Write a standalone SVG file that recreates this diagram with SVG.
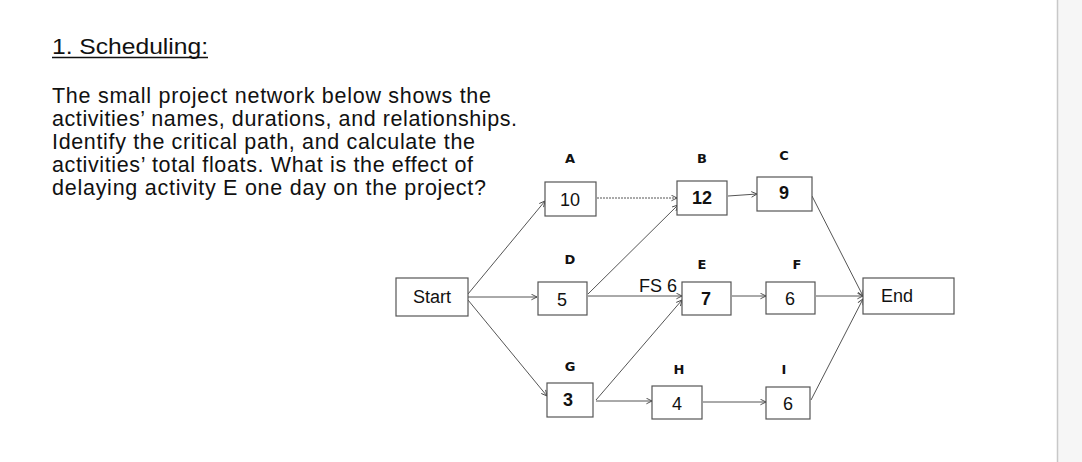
<svg xmlns="http://www.w3.org/2000/svg" width="1082" height="462" viewBox="0 0 1082 462">
<defs>
<marker id="ar" viewBox="0 0 10 10" refX="9" refY="5" markerWidth="7" markerHeight="7" orient="auto" markerUnits="userSpaceOnUse"><path d="M1,1 L9,5 L1,9" fill="none" stroke="#444" stroke-width="1.3"/></marker>
</defs>
<style>
.box{fill:#fff;stroke:#555;stroke-width:1.2}
.num{font-family:"Liberation Sans",Arial,sans-serif;font-size:18px;fill:#111;text-anchor:middle}
.lbl{font-family:"DejaVu Sans",sans-serif;font-weight:bold;font-size:13px;fill:#111;text-anchor:middle}
.c{stroke:#555;stroke-width:1;fill:none;marker-end:url(#ar)}
.p{font-family:"Liberation Sans",Arial,sans-serif;font-size:21.5px;fill:#111}
</style>
<rect width="1082" height="462" fill="#fff"/>
<rect x="1057" y="0" width="25" height="462" fill="#f6f6f6"/>
<line x1="1057.5" y1="0" x2="1057.5" y2="462" stroke="#c8c8c8" stroke-width="1.5"/>
<text x="52" y="54" class="p" font-size="21" textLength="156" lengthAdjust="spacingAndGlyphs">1. Scheduling:</text>
<line x1="52" y1="57.5" x2="208" y2="57.5" stroke="#111" stroke-width="1.5"/>
<text class="p"><tspan x="52" y="103" textLength="439" lengthAdjust="spacing">The small project network below shows the</tspan><tspan x="52" y="126" textLength="465" lengthAdjust="spacing">activities’ names, durations, and relationships.</tspan><tspan x="52" y="149" textLength="423" lengthAdjust="spacing">Identify the critical path, and calculate the</tspan><tspan x="52" y="172" textLength="421" lengthAdjust="spacing">activities’ total floats. What is the effect of</tspan><tspan x="52" y="195" textLength="434" lengthAdjust="spacing">delaying activity E one day on the project?</tspan></text>
<g id="connectors">
<path class="c" d="M468,294 L545,201"/>
<path class="c" d="M468,297 L537,297"/>
<path class="c" d="M468,300 L547,396"/>
<path class="c" d="M597,198 L677,198" stroke-dasharray="2,1"/>
<path class="c" d="M588,294 L678,205"/>
<path class="c" d="M588,296 L682,296"/>
<path class="c" d="M596,400 L682,300"/>
<path class="c" d="M596,401 L652,401"/>
<path class="c" d="M703,402 L766,402"/>
<path class="c" d="M728,196 L757,194"/>
<path class="c" d="M732,296 L766,296"/>
<path class="c" d="M812,196 L863,296"/>
<path class="c" d="M816,296 L863,296"/>
<path class="c" d="M811,400 L863,299"/>
<text x="658" y="292" class="num" font-size="18">FS 6</text>
</g>
<g id="start"><rect class="box" x="396" y="278" width="72" height="38"/><text x="432" y="303" class="num">Start</text></g>
<g id="A"><text x="570" y="163" class="lbl">A</text><rect class="box" x="545" y="182" width="51" height="34"/><text x="570" y="206" class="num">10</text></g>
<g id="B"><text x="702" y="163" class="lbl">B</text><rect class="box" x="677" y="181" width="50" height="34"/><text x="702" y="204" class="num" font-family="DejaVu Sans" font-size="15" font-weight="bold">12</text></g>
<g id="C"><text x="784" y="160" class="lbl">C</text><rect class="box" x="757" y="177" width="55" height="34"/><text x="784" y="199" class="num" font-family="DejaVu Sans" font-size="14" font-weight="bold">9</text></g>
<g id="D"><text x="570" y="264" class="lbl">D</text><rect class="box" x="538" y="282" width="49" height="33"/><text x="562" y="306" class="num">5</text></g>
<g id="E"><text x="702" y="269" class="lbl">E</text><rect class="box" x="682" y="282" width="49" height="33"/><text x="706" y="305" class="num" font-family="DejaVu Sans" font-size="15" font-weight="bold">7</text></g>
<g id="F"><text x="797" y="269" class="lbl">F</text><rect class="box" x="766" y="282" width="49" height="32"/><text x="790" y="305" class="num">6</text></g>
<g id="end"><rect class="box" x="863" y="278" width="91" height="36"/><text x="897" y="302" class="num">End</text></g>
<g id="G"><text x="570" y="371" class="lbl">G</text><rect class="box" x="547" y="383" width="46" height="34"/><text x="568" y="406" class="num" font-family="DejaVu Sans" font-size="15" font-weight="bold">3</text></g>
<g id="H"><text x="679" y="374" class="lbl">H</text><rect class="box" x="652" y="386" width="50" height="33"/><text x="677" y="410" class="num">4</text></g>
<g id="I"><text x="784" y="374" class="lbl" font-family="Liberation Serif">I</text><rect class="box" x="766" y="387" width="44" height="32"/><text x="788" y="410" class="num">6</text></g>
</svg>
